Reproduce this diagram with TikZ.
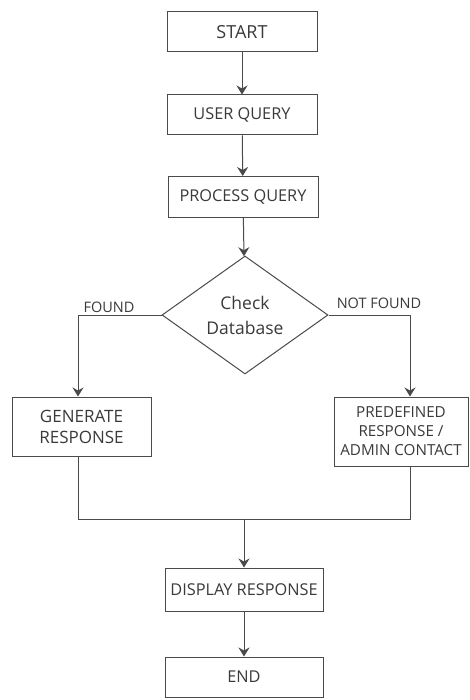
\documentclass[tikz,border=0pt]{standalone}
\usepackage{fontspec}
\setmainfont{Open Sans}
\usetikzlibrary{arrows.meta,shapes.geometric,positioning}
\definecolor{ink}{HTML}{3A3A3A}
\definecolor{edge}{HTML}{4A4A4A}
\tikzset{
  box/.style={draw=edge, line width=1pt, rectangle, inner sep=0pt,
    text=ink, font=\fontsize{16.3}{20}\selectfont, align=center},
  decision/.style={draw=edge, line width=1pt, diamond, inner sep=0pt,
    text=ink, font=\fontsize{17.5}{25}\selectfont, align=center},
  flow/.style={draw=edge, line width=1pt,
    -{Stealth[length=9pt,width=11pt,inset=3pt]}},
  link/.style={draw=edge, line width=1pt},
  tag/.style={text=ink, font=\fontsize{14.5}{17}\selectfont}
}
\begin{document}
\begin{tikzpicture}[x=1pt,y=-1pt]
  \fill[white] (0,0) rectangle (470,700);
  \useasboundingbox (0,0) rectangle (470,700);

  % main column
  \node[box, minimum width=150pt, minimum height=40pt, font=\fontsize{18}{22}\selectfont] (start) at (242,32) {START};
  \node[box, minimum width=150pt, minimum height=40pt] (user) at (242,115) {USER QUERY};
  \node[box, minimum width=150pt, minimum height=41pt] (proc) at (243,197) {PROCESS QUERY};
  \node[decision, minimum width=166pt, minimum height=118pt] (check) at (245,315) {Check\\Database};

  % branches
  \node[box, minimum width=139pt, minimum height=59pt, font=\fontsize{17}{21}\selectfont] (gen) at (81.5,426.5) {GENERATE\\RESPONSE};
  \node[box, minimum width=134pt, minimum height=69pt, font=\fontsize{15.2}{19}\selectfont] (pre) at (401,431.5) {PREDEFINED\\RESPONSE /\\ADMIN CONTACT};

  % output
  \node[box, minimum width=158pt, minimum height=43pt] (disp) at (244,589.5) {DISPLAY RESPONSE};
  \node[box, minimum width=158pt, minimum height=40pt] (stop) at (244,677) {END};

  \coordinate (join) at (244,519);

  % connectors
  \draw[flow] (start) -- (user);
  \draw[flow] (user) -- (proc);
  \draw[flow] (proc) -- (check);
  \draw[flow] (check.west) -| ([xshift=-3.5pt]gen.north);
  \draw[flow] (check.east) -| ([xshift=9pt]pre.north);
  \draw[link] ([xshift=-3.5pt]gen.south) |- (join);
  \draw[link] ([xshift=9pt]pre.south) |- (join);
  \draw[flow] (join) -- (disp);
  \draw[flow] (disp) -- (stop);

  % branch labels
  \node[tag] (found) at (109,307) {FOUND};
  \node[tag] (notfound) at (379,303) {NOT FOUND};
\end{tikzpicture}
\end{document}
